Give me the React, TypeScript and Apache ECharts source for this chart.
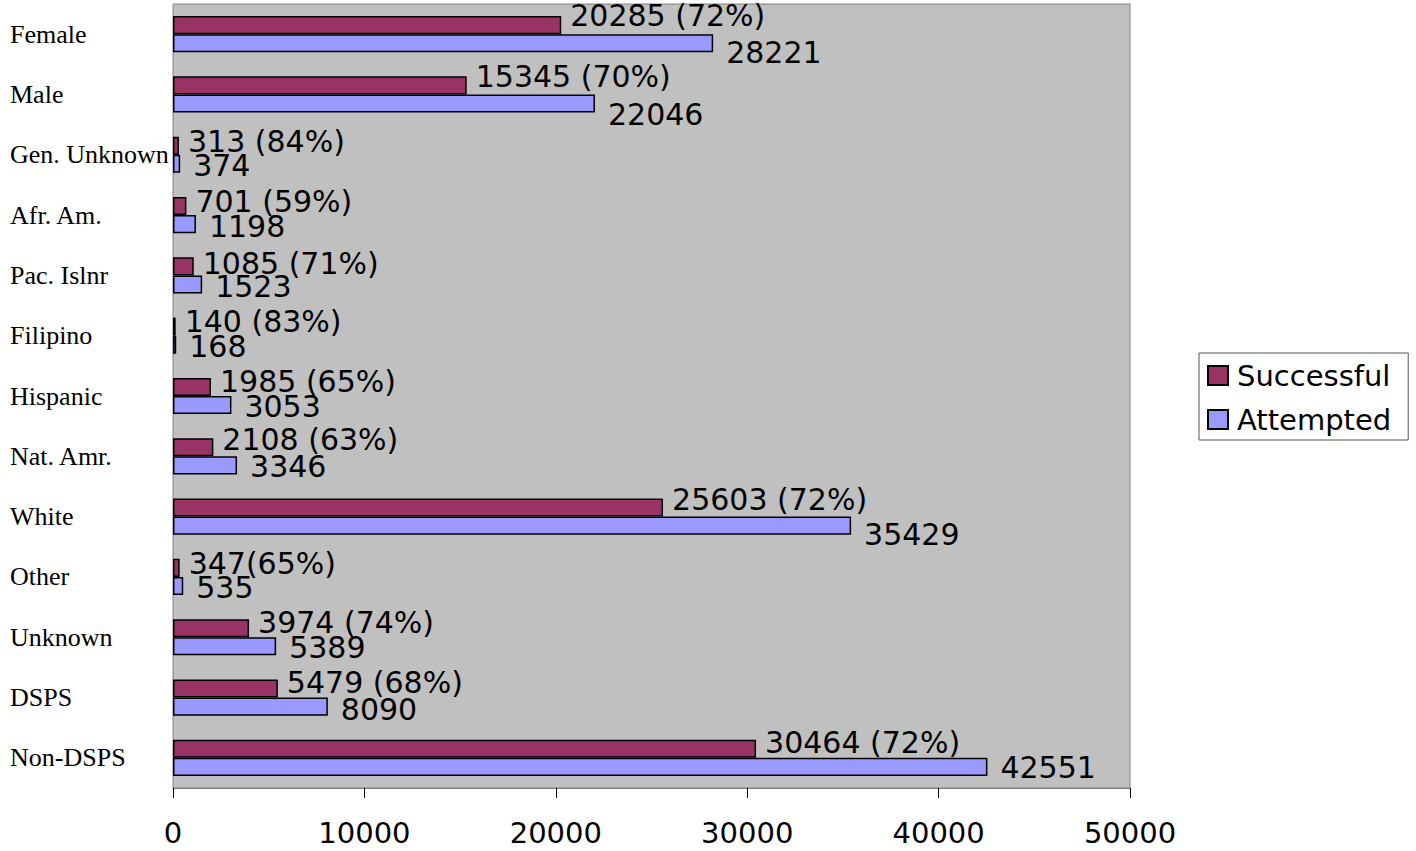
import React, { useEffect, useRef } from "react";
import * as echarts from "echarts";

const categories = [
  "Female",
  "Male",
  "Gen. Unknown",
  "Afr. Am.",
  "Pac. Islnr",
  "Filipino",
  "Hispanic",
  "Nat. Amr.",
  "White",
  "Other",
  "Unknown",
  "DSPS",
  "Non-DSPS",
];
const successful = [20285, 15345, 313, 701, 1085, 140, 1985, 2108, 25603, 347, 3974, 5479, 30464];
const attempted = [28221, 22046, 374, 1198, 1523, 168, 3053, 3346, 35429, 535, 5389, 8090, 42551];
const successfulLabels = [
  "20285 (72%)",
  "15345 (70%)",
  "313 (84%)",
  "701 (59%)",
  "1085 (71%)",
  "140 (83%)",
  "1985 (65%)",
  "2108 (63%)",
  "25603 (72%)",
  "347(65%)",
  "3974 (74%)",
  "5479 (68%)",
  "30464 (72%)",
];
const xTicks = { min: 0, max: 50000, interval: 10000 };

// vertical nudges of the value labels (layout only, as placed in the source chart)
const successfulLabelNudge = [-9.5, -9, -4, -5, -2.5, -5, -5, -7.5, -8.5, -4, -5.5, -5.5, -6.5];
const attemptedLabelNudge = [9.5, 10.5, 2, 2, 2, 2, 1, 1.5, 9, 1.5, 1.5, 3, 1];

const SANS = "'DejaVu Sans', Verdana, sans-serif";
const SERIF = "'Liberation Serif', 'Times New Roman', serif";

export default function App() {
  const ref = useRef<HTMLDivElement>(null);
  useEffect(() => {
    if (!ref.current) return;
    const chart = echarts.init(ref.current, null, { renderer: "svg" });
    const labelBase = {
      show: true,
      position: "right",
      fontFamily: SANS,
      fontSize: 30,
      color: "#000000",
    };
    chart.setOption({
      animation: false,
      backgroundColor: "#ffffff",
      grid: {
        left: 173,
        right: 286,
        top: 4,
        bottom: 63,
        show: true,
        backgroundColor: "#C0C0C0",
        borderColor: "#808080",
        borderWidth: 1,
      },
      legend: {
        orient: "vertical",
        left: 1199,
        top: 353,
        padding: [8, 17, 6, 8],
        itemGap: 15,
        itemWidth: 20,
        itemHeight: 19,
        backgroundColor: "#ffffff",
        borderColor: "#555555",
        borderWidth: 1,
        borderRadius: 0,
        icon: "rect",
        textStyle: { fontFamily: SANS, fontSize: 29, color: "#000000", padding: [0, 0, 0, 4] },
        data: ["Successful", "Attempted"],
      },
      xAxis: {
        type: "value",
        min: xTicks.min,
        max: xTicks.max,
        interval: xTicks.interval,
        axisLine: { show: true, lineStyle: { color: "#808080", width: 1 } },
        axisTick: { show: true, length: 10, lineStyle: { color: "#000000", width: 1 } },
        splitLine: { show: false },
        axisLabel: {
          fontFamily: SANS,
          fontSize: 29,
          color: "#000000",
          margin: 30,
          formatter: (v: number) => String(v),
        },
      },
      yAxis: {
        type: "category",
        data: categories,
        inverse: true,
        axisLine: { show: false },
        axisTick: { show: false },
        axisLabel: {
          fontFamily: SERIF,
          fontSize: 26,
          color: "#000000",
          align: "left",
          margin: 163,
        },
      },
      series: [
        {
          name: "Successful",
          type: "bar",
          data: successful.map((v, i) => ({
            value: v,
            label: { offset: [0, successfulLabelNudge[i]] },
          })),
          barGap: "0%",
          barCategoryGap: "40%",
          itemStyle: { color: "#993366", borderColor: "#000000", borderWidth: 1.5 },
          label: {
            ...labelBase,
            distance: 9,
            formatter: (p: any) => successfulLabels[p.dataIndex],
          },
        },
        {
          name: "Attempted",
          type: "bar",
          data: attempted.map((v, i) => ({
            value: v,
            label: { offset: [0, attemptedLabelNudge[i]] },
          })),
          barGap: "0%",
          barCategoryGap: "40%",
          itemStyle: { color: "#9999FF", borderColor: "#000000", borderWidth: 1.5 },
          label: {
            ...labelBase,
            distance: 13,
          },
        },
      ],
    });
    return () => chart.dispose();
  }, []);
  return (
    <div
      ref={ref}
      style={{ position: "absolute", left: 0, top: 0, width: 1416, height: 851 }}
    />
  );
}
